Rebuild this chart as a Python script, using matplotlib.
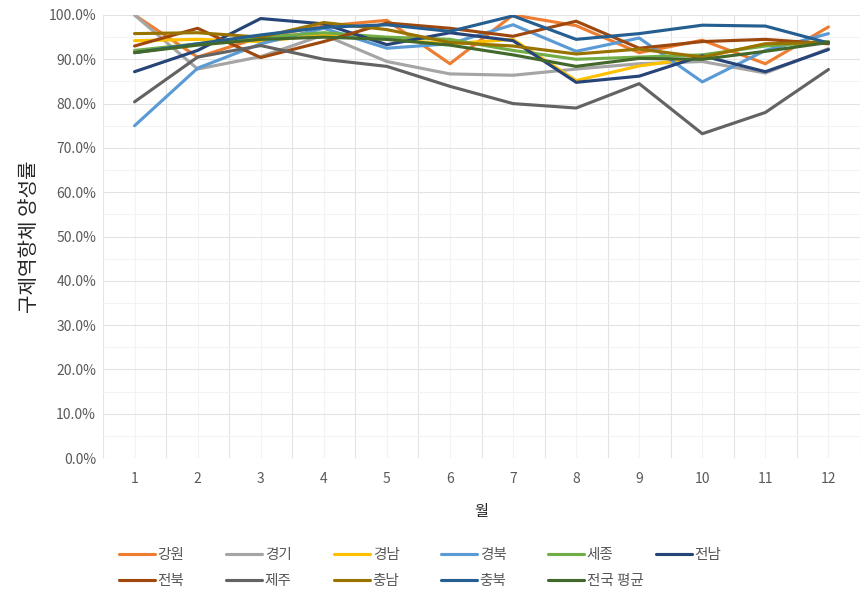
import matplotlib
matplotlib.use("Agg")
import matplotlib.pyplot as plt
from matplotlib.ticker import FixedLocator, FuncFormatter, MultipleLocator

plt.rcParams['font.family'] = ['Noto Sans CJK KR', 'DejaVu Sans']

months = [1, 2, 3, 4, 5, 6, 7, 8, 9, 10, 11, 12]

regions = ['강원', '경기', '경남', '경북', '세종', '전남',
           '전북', '제주', '충남', '충북', '전국 평균']

colors = ['#ED7D31', '#A5A5A5', '#FFC000', '#5B9BD5', '#70AD47', '#264478',
          '#9E480E', '#636363', '#997300', '#255E91', '#43682B']

# 월별 구제역 항체 양성률 (%)
gangwon   = [100.0, 90.5, 95.0, 97.5, 98.8, 89.0, 100.0, 97.6, 91.5, 94.3, 89.0, 97.3]
gyeonggi  = [100.0, 87.8, 90.6, 95.5, 89.5, 86.7, 86.4, 87.8, 89.0, 89.5, 86.9, 92.4]
gyeongnam = [94.2, 94.5, 94.0, 95.5, 94.5, 93.5, 94.5, 85.2, 88.5, 90.5, 93.5, 94.0]
gyeongbuk = [75.0, 88.0, 93.5, 97.0, 92.5, 93.5, 97.8, 91.8, 94.8, 84.9, 92.0, 95.8]
sejong    = [92.0, 93.5, 95.0, 96.0, 95.0, 94.5, 92.0, 90.0, 90.5, 91.0, 93.0, 94.0]
jeonnam   = [87.2, 92.0, 99.2, 98.0, 93.3, 96.0, 94.2, 84.8, 86.2, 90.8, 87.2, 92.2]
jeonbuk   = [93.0, 97.0, 90.4, 94.0, 98.2, 97.0, 95.2, 98.6, 92.5, 94.0, 94.5, 93.5]
jeju      = [80.4, 90.5, 93.1, 90.0, 88.4, 83.9, 80.0, 79.0, 84.5, 73.2, 78.0, 87.7]
chungnam  = [95.8, 96.0, 95.0, 98.3, 96.7, 93.8, 93.0, 91.2, 92.3, 90.5, 93.5, 93.8]
chungbuk  = [91.5, 93.5, 95.5, 97.2, 97.8, 96.3, 99.8, 94.5, 95.8, 97.7, 97.5, 93.7]
national  = [91.5, 93.2, 94.5, 95.0, 94.5, 93.2, 91.0, 88.4, 90.2, 90.0, 91.8, 93.8]

series = [gangwon, gyeonggi, gyeongnam, gyeongbuk, sejong, jeonnam,
          jeonbuk, jeju, chungnam, chungbuk, national]

W, H = 863, 594
fig = plt.figure(figsize=(W / 100, H / 100), dpi=100)
ax = fig.add_axes([103 / W, 1 - 458 / H, (860 - 103) / W, (458 - 15) / H])

handles = {}
for name, vals, c in zip(regions, series, colors):
    ln, = ax.plot(months, vals, color=c, lw=2.25, solid_joinstyle='round',
                  solid_capstyle='round', label=name, zorder=3)
    handles[name] = ln

ax.set_xlim(0.5, 12.5)
ax.set_ylim(0, 100)

ax.xaxis.set_major_locator(FixedLocator([m - 0.5 for m in months] + [12.5]))
ax.xaxis.set_minor_locator(FixedLocator(months))
ax.xaxis.set_major_formatter(FuncFormatter(lambda v, p: ''))
ax.xaxis.set_minor_formatter(FuncFormatter(lambda v, p: f'{int(round(v))}'))
ax.yaxis.set_major_locator(MultipleLocator(10))
ax.yaxis.set_minor_locator(MultipleLocator(5))
ax.yaxis.set_major_formatter(FuncFormatter(lambda v, p: f'{v:.1f}%'))

ax.grid(which='major', color='#E3E3E3', lw=0.8, zorder=0)
ax.grid(which='minor', color='#F3F3F3', lw=0.8, zorder=0)
ax.tick_params(which='both', length=0, colors='#595959', labelsize=10)
ax.tick_params(axis='x', which='minor', pad=10)
ax.tick_params(axis='y', pad=5)
for s in ax.spines.values():
    s.set_visible(False)
ax.set_axisbelow(True)

ax.set_ylabel('구제역항체 양성률', fontsize=14.5, color='#262626', labelpad=6)
ax.set_xlabel('월', fontsize=11, color='#262626', labelpad=12)

# 범례: 두 줄, 여섯 칸을 같은 간격으로 배치
legend_rows = [['강원', '경기', '경남', '경북', '세종', '전남'],
               ['전북', '제주', '충남', '충북', '전국 평균']]
col_x = [119, 226, 334, 441, 548, 656]
for i, x in enumerate(col_x):
    names = [row[i] for row in legend_rows if i < len(row)]
    leg = fig.legend([handles[n] for n in names], names,
                     loc='upper left', bbox_to_anchor=(x / W, 1 - 548 / H),
                     frameon=False, fontsize=10.5, handlelength=2.5,
                     handletextpad=0.15, labelspacing=0.8,
                     borderaxespad=0, borderpad=0)
    for t in leg.get_texts():
        t.set_color('#595959')

fig.savefig('out.png', dpi=100, facecolor='white')
